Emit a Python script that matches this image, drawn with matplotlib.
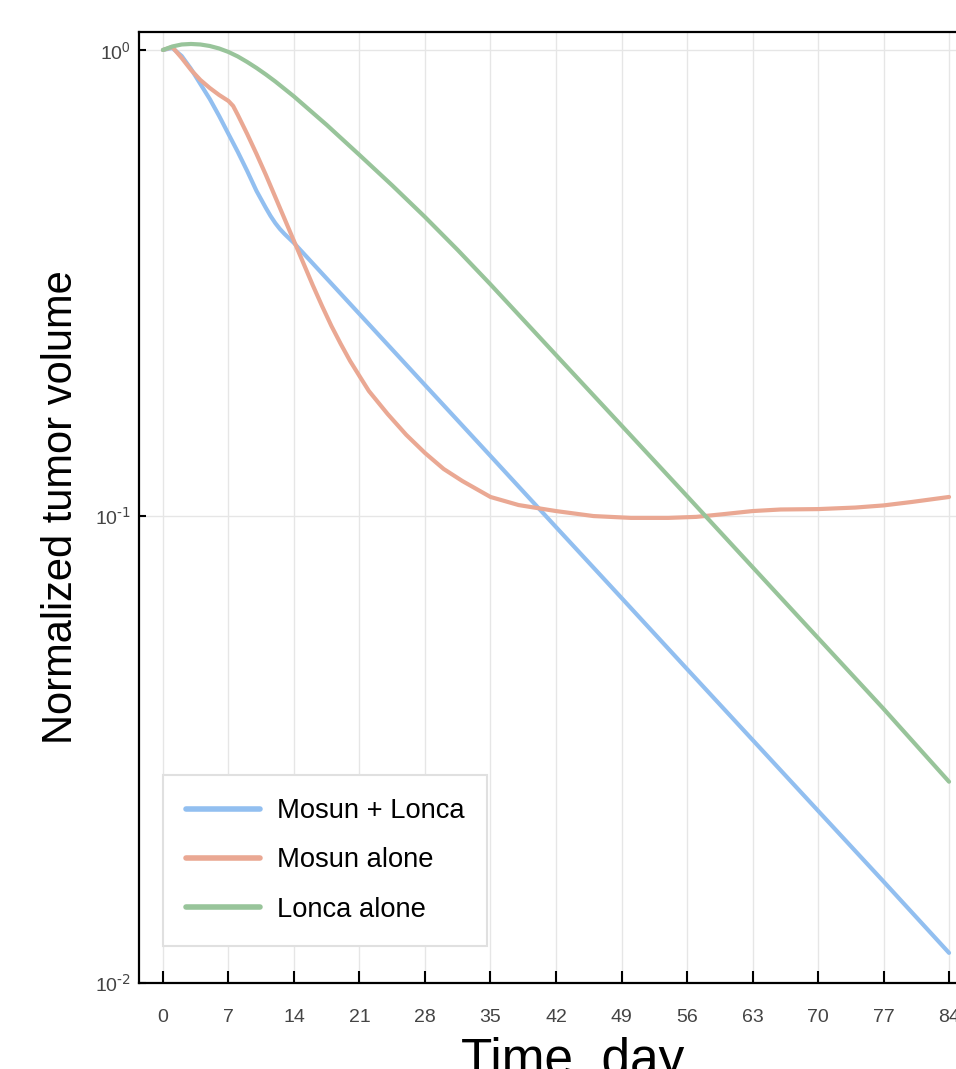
import numpy as np
import matplotlib.pyplot as plt
from matplotlib.ticker import FixedLocator, NullLocator

plt.rcParams['font.family'] = ['Liberation Sans', 'DejaVu Sans']
plt.rcParams['mathtext.default'] = 'regular'
plt.rcParams['axes.unicode_minus'] = False

# Values (day, normalized tumor volume)
combo_days = [0, 1, 2, 3, 4, 5, 6, 7, 8, 9, 10, 11, 11.5, 12, 12.5, 13, 14,
              21, 28, 35, 42, 49, 56, 63, 70, 77, 84]
combo_vol = [1.0, 1.0099, 0.9708, 0.9106, 0.8454, 0.7852, 0.7222, 0.6606, 0.6045, 0.5503,
             0.4985, 0.4584, 0.4406, 0.4256, 0.4132, 0.4031, 0.3856,
             0.2716, 0.1913, 0.1348, 0.0949, 0.0669, 0.0471, 0.0332, 0.0234, 0.0165, 0.0116]

mosun_days = [0, 1, 2, 3, 4, 5, 6, 7, 7.5, 8, 9, 10, 11, 12, 13, 14, 15, 16, 17, 18, 19,
              20, 21, 22, 24, 26, 28, 30, 32, 35, 38, 42, 46, 50, 54, 57, 60, 63, 66, 70,
              74, 77, 80, 84]
mosun_vol = [1.0, 1.0149, 0.9613, 0.9061, 0.8623, 0.8290, 0.8009, 0.7774, 0.7585, 0.7256,
             0.6606, 0.5984, 0.5396, 0.4841, 0.4342, 0.3895, 0.3494, 0.3134, 0.2826, 0.2561,
             0.2343, 0.2154, 0.2000, 0.1858, 0.1659, 0.1496, 0.1368, 0.1264, 0.1191, 0.1101,
             0.1058, 0.1027, 0.1002, 0.0993, 0.0993, 0.0998, 0.1012, 0.1027, 0.1035, 0.1037,
             0.1045, 0.1056, 0.1074, 0.1101]

lonca_days = [0, 1, 2, 3, 4, 5, 6, 7, 8, 9, 10, 11, 12, 14, 17.5, 21, 24.5, 28, 31.5, 35,
              42, 49, 56, 63, 70, 77, 84]
lonca_vol = [1.0, 1.0174, 1.0275, 1.0301, 1.0275, 1.0199, 1.0074, 0.9902, 0.9684, 0.9425,
             0.9150, 0.8860, 0.8561, 0.7950, 0.6907, 0.5955, 0.5124, 0.4385, 0.3725, 0.3144,
             0.2219, 0.1567, 0.1106, 0.0779, 0.0549, 0.0387, 0.0270]

xtick_days = list(range(0, 85, 7))
ytick_vals = [1e-2, 1e-1, 1e0]
ytick_labels = [r'$10^{\text{-2}}$', r'$10^{\text{-1}}$', r'$10^{0}$']

fig = plt.figure(figsize=(9.56, 10.69), dpi=100)
ax = fig.add_axes([0.1454, 0.0805, 0.908, 0.8896])

ax.plot(combo_days, combo_vol, color='#92bff0', lw=3.0, label='Mosun + Lonca', solid_capstyle='round')
ax.plot(mosun_days, mosun_vol, color='#eaa893', lw=3.0, label='Mosun alone', solid_capstyle='round')
ax.plot(lonca_days, lonca_vol, color='#98c49a', lw=3.0, label='Lonca alone', solid_capstyle='round')

ax.set_yscale('log')
ax.set_xlim(-2.56, 90.2)
ax.set_ylim(1e-2, 1.093)

ax.xaxis.set_major_locator(FixedLocator(xtick_days))
ax.set_xticklabels([str(d) for d in xtick_days])
ax.yaxis.set_major_locator(FixedLocator(ytick_vals))
ax.yaxis.set_minor_locator(NullLocator())
ax.set_yticklabels(ytick_labels)

ax.grid(True, color='#e6e6e6', lw=1.0)
ax.set_axisbelow(True)

ax.tick_params(axis='x', direction='in', length=9, width=1.5, pad=19,
               labelsize=14, labelcolor='#444444', color='black')
ax.tick_params(axis='y', direction='in', length=5, width=1.5, pad=6,
               labelsize=14, labelcolor='#444444', color='black')
for side in ['left', 'bottom', 'top', 'right']:
    ax.spines[side].set_linewidth(1.6)
    ax.spines[side].set_color('black')

ax.set_ylabel('Normalized tumor volume', fontsize=30, labelpad=10)
ax.set_xlabel('Time, day', fontsize=37, labelpad=8)

leg = ax.legend(loc='lower left', bbox_to_anchor=(0.0276, 0.0389), borderaxespad=0,
                fontsize=19.7, frameon=True, fancybox=False, framealpha=1,
                edgecolor='#e0e0e0', handlelength=2.7, handletextpad=0.6,
                labelspacing=0.85, borderpad=0.85)
leg.get_frame().set_linewidth(1.5)
for line in leg.get_lines():
    line.set_linewidth(4)

fig.savefig('out.png', dpi=100)
